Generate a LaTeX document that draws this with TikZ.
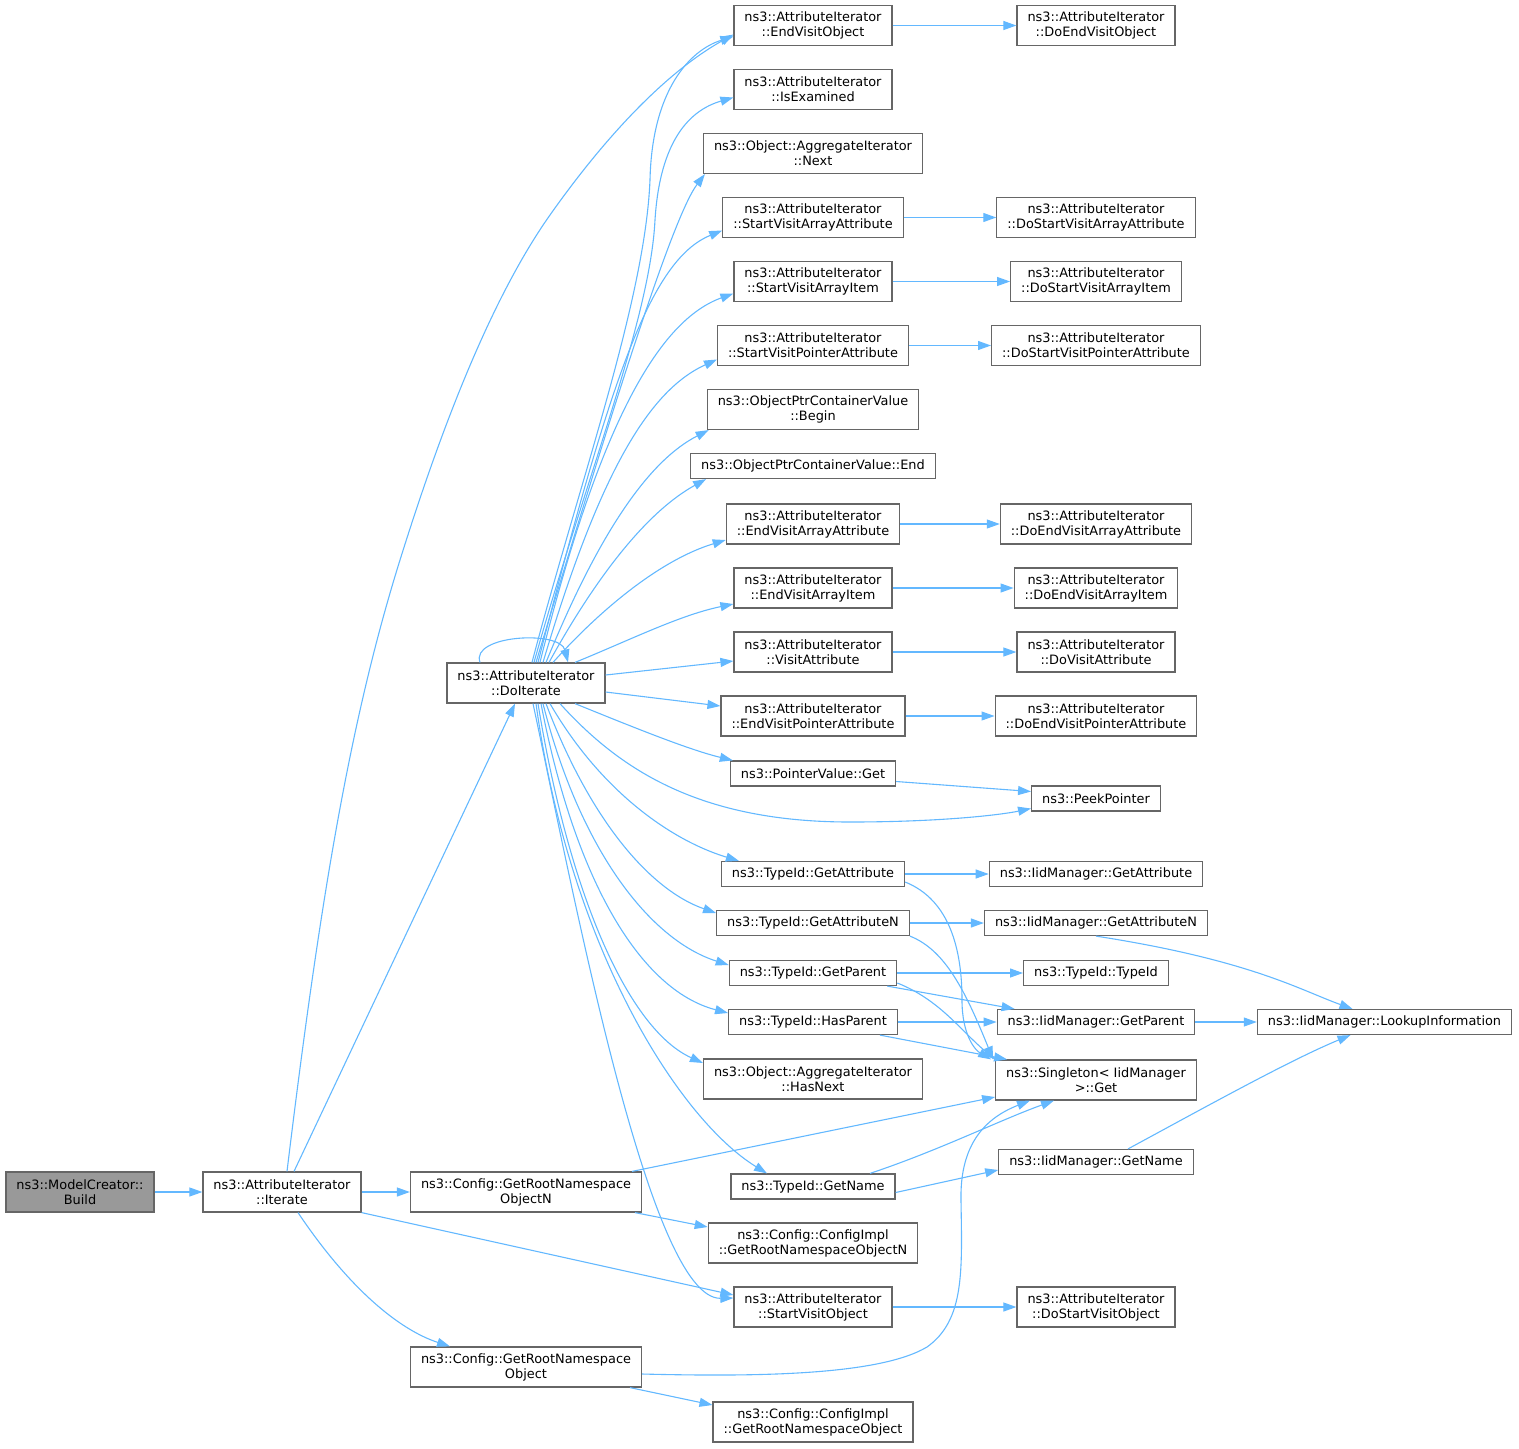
\documentclass[tikz,border=0pt]{standalone}
\usepackage{fontspec}
\setmainfont{DejaVu Sans}
\usetikzlibrary{arrows.meta,calc}
\definecolor{edgeblue}{HTML}{63B8FF}
\definecolor{boxgray}{HTML}{666666}
\definecolor{fillgray}{HTML}{999999}

\begin{document}
\begin{tikzpicture}
[x=1pt,y=-1pt,
edge/.style={edgeblue,>={Triangle[length=13pt,width=9pt]},line width=1.1pt},
block/.style={draw=boxgray,line width=1.2pt,fill=white,inner xsep=10.5pt,inner ysep=0pt,
minimum height=25pt,align=center,font=\fontsize{12.9}{15}\selectfont},
block2/.style={block,minimum height=40pt}]
\useasboundingbox (0,0) rectangle (1519,1449);
%%
\node (build) [block2,fill=fillgray] at (80,1192) {ns3::ModelCreator::\\Build};
\node (iter) [block2] at (282,1192) {ns3::AttributeIterator\\::Iterate};
\node (doit) [block2] at (526,683) {ns3::AttributeIterator\\::DoIterate};
\node (cfgn) [block2] at (526,1192) {ns3::Config::GetRootNamespace\\ObjectN};
\node (cfg) [block2] at (526,1367) {ns3::Config::GetRootNamespace\\Object};
%%
\node (endvo) [block2] at (813,25.5) {ns3::AttributeIterator\\::EndVisitObject};
\node (isex) [block2] at (813,89.5) {ns3::AttributeIterator\\::IsExamined};
\node (next) [block2] at (813,153.5) {ns3::Object::AggregateIterator\\::Next};
\node (startvaa) [block2] at (813,217.5) {ns3::AttributeIterator\\::StartVisitArrayAttribute};
\node (startvai) [block2] at (813,281.5) {ns3::AttributeIterator\\::StartVisitArrayItem};
\node (startvpa) [block2] at (813,345.5) {ns3::AttributeIterator\\::StartVisitPointerAttribute};
\node (pcbegin) [block2] at (813,409.5) {ns3::ObjectPtrContainerValue\\::Begin};
\node (pcend) [block] at (813,466) {ns3::ObjectPtrContainerValue::End};
\node (endvaa) [block2] at (813,524) {ns3::AttributeIterator\\::EndVisitArrayAttribute};
\node (endvai) [block2] at (813,588) {ns3::AttributeIterator\\::EndVisitArrayItem};
\node (visita) [block2] at (813,652) {ns3::AttributeIterator\\::VisitAttribute};
\node (endvpa) [block2] at (813,716) {ns3::AttributeIterator\\::EndVisitPointerAttribute};
\node (pvget) [block] at (813,773.5) {ns3::PointerValue::Get};
\node (getattr) [block] at (813,874) {ns3::TypeId::GetAttribute};
\node (getattrn) [block] at (813,923) {ns3::TypeId::GetAttributeN};
\node (getpar) [block] at (813,973) {ns3::TypeId::GetParent};
\node (haspar) [block] at (813,1022) {ns3::TypeId::HasParent};
\node (hasnext) [block2] at (813,1079) {ns3::Object::AggregateIterator\\::HasNext};
\node (getname) [block] at (813,1186.5) {ns3::TypeId::GetName};
\node (cimpln) [block2] at (813,1243) {ns3::Config::ConfigImpl\\::GetRootNamespaceObjectN};
\node (startvo) [block2] at (813,1307) {ns3::AttributeIterator\\::StartVisitObject};
\node (cimpl) [block2] at (813,1422) {ns3::Config::ConfigImpl\\::GetRootNamespaceObject};
%%
\node (doendvo) [block2] at (1096,25.5) {ns3::AttributeIterator\\::DoEndVisitObject};
\node (dostartvaa) [block2] at (1096,217.5) {ns3::AttributeIterator\\::DoStartVisitArrayAttribute};
\node (dostartvai) [block2] at (1096,281.5) {ns3::AttributeIterator\\::DoStartVisitArrayItem};
\node (dostartvpa) [block2] at (1096,345.5) {ns3::AttributeIterator\\::DoStartVisitPointerAttribute};
\node (doendvaa) [block2] at (1096,524) {ns3::AttributeIterator\\::DoEndVisitArrayAttribute};
\node (doendvai) [block2] at (1096,588) {ns3::AttributeIterator\\::DoEndVisitArrayItem};
\node (dovisita) [block2] at (1096,652) {ns3::AttributeIterator\\::DoVisitAttribute};
\node (doendvpa) [block2] at (1096,716) {ns3::AttributeIterator\\::DoEndVisitPointerAttribute};
\node (peek) [block] at (1096,798.5) {ns3::PeekPointer};
\node (iidgetattr) [block] at (1096,874) {ns3::IidManager::GetAttribute};
\node (iidgetattrn) [block] at (1096,923) {ns3::IidManager::GetAttributeN};
\node (tidtid) [block] at (1096,973) {ns3::TypeId::TypeId};
\node (iidgetpar) [block] at (1096,1022) {ns3::IidManager::GetParent};
\node (sgget) [block2] at (1096,1080) {ns3::Singleton< IidManager\\>::Get};
\node (iidgetname) [block] at (1096,1162) {ns3::IidManager::GetName};
\node (dostartvo) [block2] at (1096,1307) {ns3::AttributeIterator\\::DoStartVisitObject};
\node (lookup) [block] at (1384.5,1022) {ns3::IidManager::LookupInformation};
%%
\draw[edge,->] (build) -- (iter);
\draw[edge,->] ([xshift=5pt]iter.north) .. controls (320,900) and (350,720) .. (400,560)
 .. controls (440,432) and (490,300) .. (550,215) .. controls (610,130) and (670,70) .. ([yshift=-9pt]endvo.west);
\draw[edge,->] ([xshift=12pt]iter.north) -- ([xshift=-11pt]doit.south);
\draw[edge,->] (iter) -- (cfgn);
\draw[edge,->] (iter.south east) -- ([yshift=12pt]startvo.west);
\draw[edge,->] ([xshift=16pt]iter.south) .. controls (350,1290) and (400,1330) .. ([xshift=-76pt]cfg.north);
%%
\draw[edge,->] ([xshift=-46pt]doit.north) .. controls (470,635) and (560,630) .. ([xshift=42pt]doit.north);
\draw[edge,->] ([xshift=6pt]doit.north) .. controls (580,480) and (645,300) .. (650,180)
 .. controls (652,90) and (690,50) .. ([yshift=-11pt]endvo.west);
\draw[edge,->] ([xshift=8pt]doit.north) .. controls (585,480) and (650,320) .. (655,220)
 .. controls (660,140) and (690,110) .. ([yshift=-8pt]isex.west);
\draw[edge,->] ([xshift=10pt]doit.north) .. controls (600,450) and (670,220) .. ([xshift=2pt]next.south west);
\draw[edge,->] ([xshift=12pt]doit.north) .. controls (610,380) and (650,260) .. ([yshift=-13pt]startvaa.west);
\draw[edge,->] ([xshift=14pt]doit.north) .. controls (600,420) and (660,320) .. ([yshift=-12pt]startvai.west);
\draw[edge,->] ([xshift=17pt]doit.north) .. controls (600,470) and (650,390) .. ([yshift=-14pt]startvpa.west);
\draw[edge,->] ([xshift=20pt]doit.north) .. controls (600,530) and (650,460) .. ([xshift=2pt]pcbegin.south west);
\draw[edge,->] ([xshift=23pt]doit.north) .. controls (600,570) and (650,510) .. ([xshift=16pt]pcend.south west);
\draw[edge,->] ([xshift=27pt]doit.north) .. controls (600,610) and (660,560) .. ([yshift=-16pt]endvaa.west);
\draw[edge,->] ([xshift=49pt]doit.north) .. controls (630,640) and (680,615) .. ([yshift=-16pt]endvai.west);
\draw[edge,->] ([yshift=8pt]doit.east) -- ([yshift=-9pt]visita.west);
\draw[edge,->] ([yshift=-9pt]doit.east) -- ([yshift=10pt]endvpa.west);
\draw[edge,->] ([xshift=49pt]doit.south) .. controls (640,730) and (690,750) .. ([xshift=3pt]pvget.north west);
\draw[edge,->] ([xshift=34pt]doit.south) .. controls (620,770) and (700,822) .. (850,822)
 .. controls (940,822) and (1000,815) .. ([yshift=-10pt]peek.west);
\draw[edge,->] ([xshift=24pt]doit.south) .. controls (600,790) and (670,840) .. ([xshift=18pt]getattr.north west);
\draw[edge,->] ([xshift=20pt]doit.south) .. controls (590,820) and (650,890) .. ([yshift=10pt]getattrn.west);
\draw[edge,->] ([xshift=17pt]doit.south) .. controls (580,850) and (650,940) .. ([yshift=8pt]getpar.west);
\draw[edge,->] ([xshift=15pt]doit.south) .. controls (575,880) and (640,990) .. ([yshift=9pt]haspar.west);
\draw[edge,->] ([xshift=12pt]doit.south) .. controls (570,900) and (630,1030) .. ([yshift=16pt]hasnext.west);
\draw[edge,->] ([xshift=10pt]doit.south) .. controls (570,950) and (680,1120) .. ([xshift=-46pt]getname.north);
\draw[edge,->] ([xshift=7pt]doit.south) .. controls (575,900) and (650,1300) .. ([yshift=9pt]startvo.west);
%%
\draw[edge,->] (endvo) -- (doendvo);
\draw[edge,->] (startvaa) -- (dostartvaa);
\draw[edge,->] (startvai) -- (dostartvai);
\draw[edge,->] (startvpa) -- (dostartvpa);
\draw[edge,->] (endvaa) -- (doendvaa);
\draw[edge,->] (endvai) -- (doendvai);
\draw[edge,->] (visita) -- (dovisita);
\draw[edge,->] (endvpa) -- (doendvpa);
\draw[edge,->] (startvo) -- (dostartvo);
\draw[edge,->] ([yshift=-8pt]pvget.east) -- ([yshift=7pt]peek.west);
%%
\draw[edge,->] (getattr) -- (iidgetattr);
\draw[edge,->] ([yshift=-8pt]getattr.east) .. controls (950,900) and (962,950) .. (962,1000)
 .. controls (962,1035) and (975,1050) .. ([xshift=-4pt]sgget.north west);
\draw[edge,->] (getattrn) -- (iidgetattrn);
\draw[edge,->] (getattrn.south east) .. controls (945,950) and (965,990) .. ([xshift=-2pt]sgget.north west);
\draw[edge,->] (getpar) -- (tidtid);
\draw[edge,->] ([xshift=-10pt]getpar.south east) -- ([xshift=18pt]iidgetpar.north west);
\draw[edge,->] ([yshift=-10pt]getpar.east) .. controls (940,1000) and (960,1030) .. (sgget.north west);
\draw[edge,->] (haspar) -- (iidgetpar);
\draw[edge,->] ([xshift=-18pt]haspar.south east) -- ([xshift=12pt]sgget.north west);
\draw[edge,->] (iidgetattrn.south) .. controls (1250,960) and (1300,990) .. ([xshift=-32pt]lookup.north);
\draw[edge,->] (iidgetpar) -- (lookup);
\draw[edge,->] ([xshift=32pt]iidgetname.north) .. controls (1200,1110) and (1290,1060) .. ([xshift=-34pt]lookup.south);
%%
\draw[edge,->] ([xshift=57pt]getname.north) .. controls (940,1150) and (1000,1120) .. ([xshift=-42pt]sgget.south);
\draw[edge,->] ([yshift=-6pt]getname.east) -- ([yshift=-8pt]iidgetname.west);
\draw[edge,->] ([xshift=106pt]cfgn.north) -- ([yshift=-17pt]sgget.west);
\draw[edge,->] ([xshift=109pt]cfgn.south) -- ([yshift=16pt]cimpln.west);
\draw[edge,->] ([yshift=-7pt]cfg.east) .. controls (760,1377) and (880,1375) .. (927,1347)
 .. controls (965,1320) and (962,1270) .. (961,1200) .. controls (960,1150) and (980,1120) .. ([xshift=-66pt]sgget.south);
\draw[edge,->] ([xshift=104pt]cfg.south) -- ([yshift=17pt]cimpl.west);
\end{tikzpicture}
\end{document}
